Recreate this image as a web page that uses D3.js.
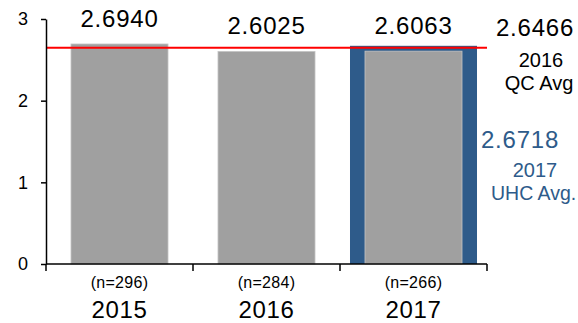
<!DOCTYPE html>
<html lang="en">
<head>
<meta charset="utf-8">
<title>Scores by year</title>
<script src="https://cdn.jsdelivr.net/npm/d3@7"></script>
<style>
  body { margin: 0; background: #fff; }
  svg { font-family: "Liberation Sans", Arial, sans-serif; }
</style>
</head>
<body>
<svg></svg>
<script>
var years = ["2015", "2016", "2017"];
var scores = [2.6940, 2.6025, 2.6063];
var counts = ["(n=296)", "(n=284)", "(n=266)"];
var uhcYear = "2017";
var uhcAvg = 2.6718;
var qcAvg = 2.6466;
var yTicks = [0, 1, 2, 3];

var width = 578, height = 323;
var plotLeft = 46, plotRight = 487, plotTop = 19, plotBottom = 264;

var svg = d3.select("svg").attr("width", width).attr("height", height);

var x = d3.scaleBand().domain(years).range([plotLeft, plotRight])
  .paddingInner(0.34).paddingOuter(0.17);
// wider band for the blue UHC bar behind the 2017 bar
var xWide = d3.scaleBand().domain(years).range([plotLeft, plotRight])
  .paddingInner(0.136).paddingOuter(0.068);
var y = d3.scaleLinear().domain([0, 3]).range([plotBottom, plotTop]);

// blue UHC bar
svg.append("rect")
  .attr("x", xWide(uhcYear))
  .attr("width", xWide.bandwidth())
  .attr("y", y(uhcAvg))
  .attr("height", y(0) - y(uhcAvg))
  .attr("fill", "#2e5b8a");

// grey bars
svg.selectAll(".bar")
  .data(scores)
  .enter()
  .append("rect")
  .attr("class", "bar")
  .attr("x", function(d, i) { return x(years[i]); })
  .attr("width", x.bandwidth())
  .attr("y", function(d) { return y(d); })
  .attr("height", function(d) { return y(0) - y(d); })
  .attr("fill", "#a0a0a0")
  .attr("stroke", "#c4c4c4")
  .attr("stroke-width", 0.8);

// value labels
svg.selectAll(".val")
  .data(scores)
  .enter()
  .append("text")
  .attr("class", "val")
  .attr("x", function(d, i) { return x(years[i]) + x.bandwidth() / 2; })
  .attr("y", function(d) { return y(d) - 17; })
  .attr("text-anchor", "middle")
  .attr("font-size", 24)
  .attr("letter-spacing", 0.8)
  .text(function(d) { return d.toFixed(4); });

// QC average line
svg.append("line")
  .attr("x1", plotLeft).attr("x2", plotRight)
  .attr("y1", y(qcAvg)).attr("y2", y(qcAvg))
  .attr("stroke", "#ff0000")
  .attr("stroke-width", 2);

// y axis
var yAxis = svg.append("g")
  .attr("transform", "translate(" + plotLeft + ",0)")
  .call(d3.axisLeft(y).tickValues(yTicks).tickFormat(d3.format("d")).tickSize(5).tickSizeOuter(0));
yAxis.select(".domain").attr("stroke-width", 1.5);
yAxis.selectAll(".tick line").attr("stroke-width", 1.5);
yAxis.selectAll("text").attr("font-size", 18).attr("font-family", "Liberation Sans, Arial, sans-serif")
  .attr("x", -18).attr("fill", "#000");

// x axis with ticks at the band edges
var edges = years.map(function(d) { return x(d) - x.step() * x.paddingInner() / 2; }).concat([plotRight]);
var xAxis = svg.append("g").attr("transform", "translate(0," + plotBottom + ")");
xAxis.append("line").attr("x1", plotLeft).attr("x2", plotRight).attr("stroke", "#000").attr("stroke-width", 1.5);
xAxis.selectAll(".xt").data(edges).enter().append("line")
  .attr("x1", function(d) { return d; }).attr("x2", function(d) { return d; })
  .attr("y1", 0).attr("y2", 7)
  .attr("stroke", "#000").attr("stroke-width", 1.5);

svg.selectAll(".n").data(counts).enter().append("text")
  .attr("x", function(d, i) { return x(years[i]) + x.bandwidth() / 2; })
  .attr("y", 288)
  .attr("text-anchor", "middle")
  .attr("font-size", 16)
  .attr("letter-spacing", 0.3)
  .text(function(d) { return d; });

svg.selectAll(".yr").data(years).enter().append("text")
  .attr("x", function(d) { return x(d) + x.bandwidth() / 2; })
  .attr("y", 318)
  .attr("text-anchor", "middle")
  .attr("font-size", 24)
  .attr("letter-spacing", 0.6)
  .text(function(d) { return d; });

// right side annotations
var note = svg.append("g").attr("text-anchor", "middle");
note.append("text").attr("x", 535).attr("y", 36).attr("font-size", 24).attr("letter-spacing", 0.8)
  .text(qcAvg.toFixed(4));
note.append("text").attr("x", 541).attr("y", 67).attr("font-size", 20).text("2016");
note.append("text").attr("x", 539).attr("y", 90).attr("font-size", 20).text("QC Avg");

note.append("text").attr("x", 520).attr("y", 148).attr("font-size", 24).attr("letter-spacing", 0.8)
  .attr("fill", "#2e5b8a").text(uhcAvg.toFixed(4));
note.append("text").attr("x", 535).attr("y", 177).attr("font-size", 20)
  .attr("fill", "#2e5b8a").text(uhcYear);
note.append("text").attr("x", 491).attr("y", 200).attr("font-size", 19.5)
  .attr("text-anchor", "start")
  .attr("fill", "#2e5b8a").text("UHC Avg.");
</script>
</body>
</html>
